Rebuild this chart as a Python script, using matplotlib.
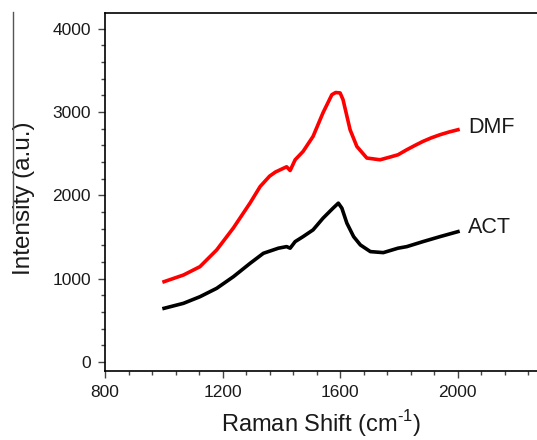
import matplotlib
matplotlib.use("Agg")
import matplotlib.pyplot as plt
from matplotlib.ticker import MultipleLocator
from matplotlib.lines import Line2D

plt.rcParams['font.family'] = ['Liberation Sans', 'DejaVu Sans']
plt.rcParams['mathtext.fontset'] = 'custom'
plt.rcParams['mathtext.rm'] = 'Liberation Sans'

# Raman shift (cm^-1) and intensities
dmf_x = [1001, 1067, 1123, 1180, 1237, 1294, 1328, 1360, 1380, 1418, 1430, 1447,
         1474, 1508, 1542, 1572, 1585, 1600, 1610, 1634, 1657, 1691, 1736, 1770,
         1797, 1827, 1855, 1882, 1910, 1940, 1970, 2001]
dmf_y = [963, 1043, 1143, 1344, 1609, 1910, 2106, 2230, 2280, 2343, 2298, 2427,
         2527, 2708, 2993, 3209, 3235, 3230, 3149, 2788, 2587, 2448, 2427, 2460,
         2487, 2548, 2600, 2648, 2690, 2728, 2760, 2788]

act_x = [1001, 1067, 1123, 1180, 1237, 1294, 1339, 1390, 1418, 1430, 1447, 1474,
         1508, 1542, 1576, 1594, 1606, 1623, 1646, 1669, 1703, 1747, 1797, 1827,
         1882, 1940, 2001]
act_y = [643, 703, 782, 883, 1023, 1184, 1304, 1365, 1384, 1365, 1444, 1504,
         1585, 1726, 1846, 1906, 1846, 1666, 1504, 1404, 1324, 1312, 1365, 1384,
         1444, 1504, 1564]

series_labels = ["DMF", "ACT"]
xlabel = "Raman Shift (cm$^{\\mathregular{\u2010}1}$)"
ylabel = "Intensity (a.u.)"

fig = plt.figure(figsize=(5.37, 4.4), dpi=100)
ax = fig.add_axes([105/537, 1-371/440, 432/537, 358/440])

ax.plot(dmf_x, dmf_y, color='#ff0000', lw=2.6, solid_joinstyle='round')
ax.plot(act_x, act_y, color='black', lw=2.6, solid_joinstyle='round')

ax.text(2037, 2812, series_labels[0], fontsize=15.5, va='center', ha='left',
        color='#1a1a1a')
ax.text(2035, 1609, series_labels[1], fontsize=15.5, va='center', ha='left',
        color='#1a1a1a')

ax.set_xlim(800, 2270)
ax.set_ylim(-110, 4190)
ax.xaxis.set_major_locator(MultipleLocator(400))
ax.xaxis.set_minor_locator(MultipleLocator(80))
ax.yaxis.set_major_locator(MultipleLocator(1000))
ax.yaxis.set_minor_locator(MultipleLocator(200))
ax.set_yticks([0, 1000, 2000, 3000, 4000])

ax.spines['right'].set_visible(False)
for s in ['left', 'bottom', 'top']:
    ax.spines[s].set_linewidth(1.2)
ax.tick_params(axis='both', which='major', direction='out', length=5, width=1,
               labelsize=12.5, pad=5, color='#444444', labelcolor='#1a1a1a')
ax.tick_params(axis='both', which='minor', direction='out', length=3, width=1,
               color='#444444')
ax.tick_params(top=False, right=False)

ax.set_xlabel(xlabel, fontsize=17, labelpad=6, color='#1a1a1a')
ax.set_ylabel(ylabel, fontsize=17.5, color='#1a1a1a')
ax.yaxis.set_label_coords(-0.163, 0.483)

fig.add_artist(Line2D([13/537, 13/537], [1-12/440, 1-223/440],
                      transform=fig.transFigure, color='#555555', lw=1))

fig.savefig("out.png", dpi=100)
